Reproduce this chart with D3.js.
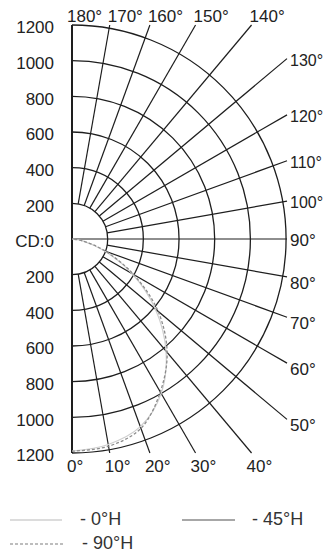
<!DOCTYPE html>
<html>
<head>
<meta charset="utf-8">
<script src="https://cdn.jsdelivr.net/npm/d3@7"></script>
<style>
  html, body { margin: 0; padding: 0; background: #fff; }
  svg { display: block; font-family: "Liberation Sans", Arial, sans-serif; }
</style>
</head>
<body>
<svg id="chart" width="323" height="552"></svg>
<script>
// Luminous intensity rings (cd) and angular spokes (degrees)
const ringValues = [200, 400, 600, 800, 1000, 1200];
const spokeAngles = [0, 10, 20, 30, 40, 50, 60, 70, 80, 90, 100, 110, 120, 130, 140, 150, 160, 170, 180];
const centerLabel = "CD:0";

// Intensity curves, sampled every 10° from the beam axis
const curveAngles = [0, 10, 20, 30, 40, 50, 60, 70, 80, 90];
const plane0H  = [1190, 1170, 1120, 1000, 820, 610, 390, 190, 60, 0];
const plane90H = [1190, 1180, 1130, 990, 830, 630, 400, 200, 60, 0];

// Legend entries
const legendNames = ["- 0°H", "- 45°H", "- 90°H"];

const svg = d3.select("#chart");
const cx = 72, cy = 239, R = 214;
const r = d3.scaleLinear().domain([0, 1200]).range([0, R]);
const rad = d => d * Math.PI / 180;
// screen position of a polar point (theta 0 = down, 90 = right, 180 = up)
const pos = (theta, v) => [cx + r(v) * Math.sin(rad(theta)), cy + r(v) * Math.cos(rad(theta))];

const gridColor = "#1e1e1e";
const g = svg.append("g");

// rings
const arc = d3.arc();
ringValues.forEach(v => {
  g.append("path")
    .attr("transform", `translate(${cx},${cy})`)
    .attr("d", arc({innerRadius: r(v), outerRadius: r(v), startAngle: 0, endAngle: Math.PI}))
    .attr("fill", "none")
    .attr("stroke", gridColor)
    .attr("stroke-width", 1.3);
});

// spokes, extended to the frame box around the half-plot
function spokeEnd(theta) {
  const s = Math.sin(rad(theta)), c = Math.cos(rad(theta));
  let t = Infinity, side = null;
  if (s > 1e-6) { const tr = (R + 1) / s; if (tr < t) { t = tr; side = "right"; } }
  if (Math.abs(c) > 1e-6) { const tv = R / Math.abs(c); if (tv < t) { t = tv; side = c > 0 ? "bottom" : "top"; } }
  return {x: cx + t * s, y: cy + t * c, side};
}

spokeAngles.forEach(theta => {
  if (theta === 0 || theta === 180) return;
  const start = theta === 90 ? 0 : 200;
  const [x0, y0] = pos(theta, start);
  const e = spokeEnd(theta);
  g.append("line")
    .attr("x1", x0).attr("y1", y0).attr("x2", e.x).attr("y2", e.y)
    .attr("stroke", gridColor).attr("stroke-width", 1.2);
});

// vertical axis (0° down to 180° up)
g.append("line")
  .attr("x1", cx).attr("y1", cy - R).attr("x2", cx).attr("y2", cy + R)
  .attr("stroke", gridColor).attr("stroke-width", 2);

// intensity curves
const radial = d3.lineRadial()
  .angle(d => Math.PI - rad(d[0]))
  .radius(d => r(d[1]))
  .curve(d3.curveCatmullRom);
const curves = [
  {vals: plane0H,  color: "#cfcfcf", dash: null,  w: 1.2},
  {vals: plane90H, color: "#8c8c8c", dash: "3,2", w: 1.3}
];
curves.forEach(cv => {
  svg.append("path")
    .attr("transform", `translate(${cx},${cy})`)
    .attr("d", radial(curveAngles.map((a, i) => [a, cv.vals[i]])))
    .attr("fill", "none")
    .attr("stroke", cv.color)
    .attr("stroke-width", cv.w)
    .attr("stroke-dasharray", cv.dash);
});

// intensity labels on the left
const textColor = "#222";
const fs = 17;
const leftLabels = ringValues.slice().reverse().map(v => ({v, y: cy - r(v)}))
  .concat([{v: centerLabel, y: cy}])
  .concat(ringValues.map(v => ({v, y: cy + r(v)})));
svg.selectAll("text.ylab").data(leftLabels).enter().append("text")
  .attr("class", "ylab")
  .attr("x", 54).attr("y", d => d.y + 4)
  .attr("text-anchor", "end").attr("dominant-baseline", "middle")
  .attr("font-size", fs).attr("fill", textColor)
  .text(d => d.v);

// angle labels
spokeAngles.forEach(theta => {
  const e = spokeEnd(theta);
  let x, y, size = fs;
  if (theta === 180) { x = cx - 5; y = cy - R - 3; }
  else if (e.side === "top") { x = e.x - 2; y = cy - R - 3; }
  else if (e.side === "bottom" || theta === 0) { x = (theta === 0 ? cx : e.x) - 5; y = cy + R + 19; }
  else {
    x = cx + R + 4; y = e.y + (theta < 90 ? 12 : 7);
    if (theta >= 100) size = 16; // three-digit labels kept inside the right edge
  }
  svg.append("text")
    .attr("x", x).attr("y", y)
    .attr("font-size", size).attr("fill", textColor)
    .text(theta + "°");
});

// legend
const legend = [
  {name: legendNames[0], color: "#d0d0d0", dash: null,  x1: 10,  x2: 62,  tx: 80,  y: 520},
  {name: legendNames[1], color: "#8a8a8a", dash: null,  x1: 182, x2: 235, tx: 252, y: 520},
  {name: legendNames[2], color: "#a8a8a8", dash: "3,2", x1: 10,  x2: 65,  tx: 82,  y: 544}
];
legend.forEach(l => {
  svg.append("line")
    .attr("x1", l.x1).attr("x2", l.x2).attr("y1", l.y).attr("y2", l.y)
    .attr("stroke", l.color).attr("stroke-width", 1.3)
    .attr("stroke-dasharray", l.dash);
  svg.append("text")
    .attr("x", l.tx).attr("y", l.y + 5)
    .attr("font-size", 18).attr("fill", "#333")
    .text(l.name);
});
</script>
</body>
</html>
